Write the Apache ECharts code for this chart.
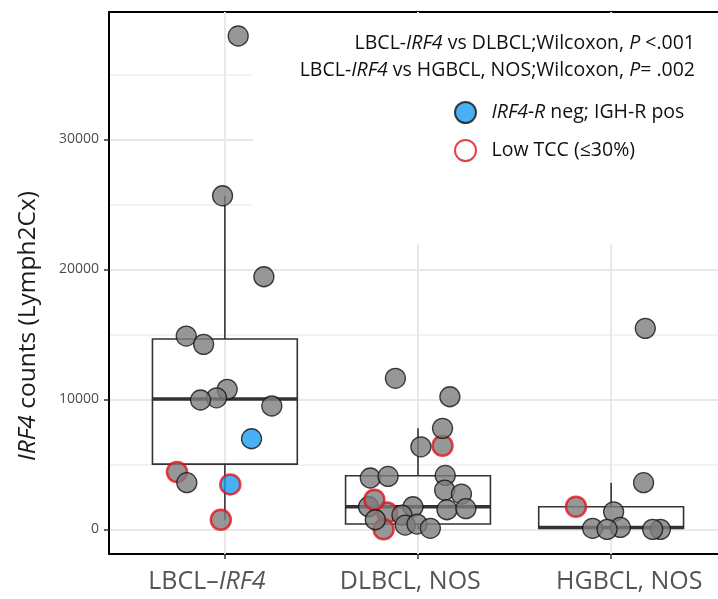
<!DOCTYPE html>
<html>
<head>
<meta charset="utf-8">
<script src="https://cdn.jsdelivr.net/npm/echarts@6/dist/echarts.min.js"></script>
<style>
  html, body { margin: 0; padding: 0; background: #fff; }
  #chart { width: 718px; height: 599px; }
</style>
</head>
<body>
<div id="chart"></div>
<script>
// categories sit at x = 1, 2, 3 (value axis so the jitter can be kept)
const categories = ['LBCL–IRF4', 'DLBCL, NOS', 'HGBCL, NOS'];
const categoryX = [1, 2, 3];

// box stats per category: [x, lower whisker, Q1, median, Q3, upper whisker]
const boxStats = [
  [1, 740, 5020, 10020, 14640, 25660],
  [2, 0, 410, 1740, 4120, 7770],
  [3, 0, 80, 150, 1740, 3590],
];

// jittered points: [x, IRF4 count, kind]  g = plain, b = IRF4-R neg / IGH-R pos, r = low TCC, br = both
const lbclPoints = [
  [1.069, 37950, 'g'], [0.988, 25660, 'g'], [1.202, 19430, 'g'],
  [0.800, 14870, 'g'], [0.890, 14230, 'g'], [1.012, 10770, 'g'],
  [0.957, 10120, 'g'], [0.874, 9950, 'g'], [1.243, 9490, 'g'],
  [1.138, 6970, 'b'], [0.752, 4410, 'r'], [0.803, 3590, 'g'],
  [1.028, 3460, 'br'], [0.979, 740, 'r'],
];
const dlbclPoints = [
  [1.883, 11620, 'g'], [2.165, 10200, 'g'], [2.127, 6430, 'r'],
  [2.127, 7770, 'g'], [2.015, 6350, 'g'], [1.753, 3950, 'g'],
  [1.845, 4070, 'g'], [2.141, 4150, 'g'], [1.744, 1740, 'g'],
  [1.840, 1300, 'r'], [1.774, 2280, 'r'], [2.138, 3020, 'g'],
  [2.225, 2715, 'g'], [2.150, 1510, 'g'], [2.248, 1590, 'g'],
  [1.822, 0, 'r'], [1.779, 740, 'g'], [1.974, 1740, 'g'],
  [1.917, 1100, 'g'], [1.934, 330, 'g'], [1.995, 410, 'g'],
  [2.064, 80, 'g'],
];
const hgbclPoints = [
  [3.177, 15460, 'g'], [3.168, 3590, 'g'], [2.818, 1740, 'r'],
  [3.013, 1350, 'g'], [2.904, 80, 'g'], [3.048, 150, 'g'],
  [2.979, 0, 'g'], [3.255, 0, 'g'], [3.215, 0, 'g'],
];

const yMajorTicks = [0, 10000, 20000, 30000];
const yMinorTicks = [5000, 15000, 25000, 35000];
const legendNames = ['IRF4-R neg; IGH-R pos', 'Low TCC (≤30%)'];

// label nudges (the original labels are not centred on their ticks)
const xLabelShift = [-0.093, -0.04, 0.094];

const FONT = 'Open Sans';
const GREY = '#7d7d7d';
const BLUE = '#1c9cf2';
const RED = '#e0141c';

function pointStyle(kind) {
  return {
    color: kind === 'b' || kind === 'br' ? BLUE : GREY,
    borderColor: kind === 'r' || kind === 'br' ? RED : '#111',
    borderWidth: kind === 'r' || kind === 'br' ? 2.5 : 1.3,
  };
}

const points = [...lbclPoints, ...dlbclPoints, ...hgbclPoints].map((p) => ({
  value: [p[0], p[1]],
  itemStyle: pointStyle(p[2]),
}));

const textRich = (size, color) => ({
  n: { fontFamily: FONT, fontSize: size, color, fontWeight: 'normal' },
  i: { fontFamily: FONT, fontSize: size, color, fontWeight: 'normal', fontStyle: 'italic' },
});

const chart = echarts.init(document.getElementById('chart'));

const gridLine = (color, width) => ({ show: true, lineStyle: { color, width } });
const frameLine = { show: true, onZero: false, lineStyle: { color: '#000', width: 2 } };

chart.setOption({
  animation: false,
  backgroundColor: '#fff',
  title: [
    {
      text: '{n|LBCL-}{i|IRF4}{n| vs DLBCL;Wilcoxon, }{i|P}{n| <.001}',
      right: 23, top: 33, padding: 0,
      textStyle: { fontWeight: 'normal', rich: textRich(19.5, '#111') },
    },
    {
      text: '{n|LBCL-}{i|IRF4}{n| vs HGBCL, NOS;Wilcoxon, }{i|P}{n|= .002}',
      right: 23, top: 60.5, padding: 0,
      textStyle: { fontWeight: 'normal', rich: textRich(19.5, '#111') },
    },
  ],
  legend: {
    data: legendNames,
    orient: 'vertical',
    left: 454, top: 101,
    padding: 0,
    itemWidth: 42, itemHeight: 21, itemGap: 15,
    icon: 'circle',
    formatter: (name) => (name === legendNames[0] ? '{i|IRF4-R}{n| neg; IGH-R pos}' : '{n|' + name + '}'),
    textStyle: { rich: textRich(19.5, '#111') },
  },
  graphic: [
    {
      // white panel behind the annotations hides the grid there
      type: 'rect', z: 1.5, silent: true,
      shape: { x: 253, y: 13.5, width: 470, height: 231 },
      style: { fill: '#fff' },
    },
  ],
  grid: {
    left: 109, right: -9, top: 12, bottom: 45,
    outerBoundsMode: 'none',
  },
  xAxis: [
    {
      type: 'value',
      min: 0.4, max: 3.6,
      axisLine: frameLine,
      axisTick: { show: true, length: 5, customValues: categoryX, lineStyle: { color: '#333', width: 1.5 } },
      axisLabel: {
        customValues: categoryX.map((v, i) => v + xLabelShift[i]),
        margin: 15,
        formatter: (v) => {
          const i = Math.round(v) - 1;
          if (i === 0) return '{n|LBCL–}{i|IRF4}';
          return '{n|' + categories[i] + '}';
        },
        rich: textRich(25, '#555'),
      },
      splitLine: { show: false },
    },
    {
      // top edge of the panel frame
      type: 'value',
      position: 'top',
      min: 0.4, max: 3.6,
      axisLine: frameLine,
      axisTick: { show: false },
      axisLabel: { show: false },
      splitLine: { show: false },
    },
  ],
  yAxis: [
    {
      type: 'value',
      min: -1895, max: 39795,
      name: '{i|IRF4}{n| counts (Lymph2Cx)}',
      nameLocation: 'middle',
      nameGap: 68,
      nameTextStyle: { padding: [0, 86, 0, 0], rich: textRich(24.5, '#1a1a1a') },
      axisLine: frameLine,
      axisTick: { show: true, length: 5, customValues: yMajorTicks, lineStyle: { color: '#333', width: 1.5 } },
      axisLabel: {
        customValues: yMajorTicks,
        margin: 10,
        formatter: (v) => String(v),
        fontFamily: FONT, fontSize: 14, color: '#4d4d4d',
      },
      splitLine: gridLine('#e8e8e8', 2),
    },
    {
      type: 'value',
      position: 'left',
      min: -1895, max: 39795,
      axisLine: { show: false },
      axisTick: { show: false, customValues: yMinorTicks },
      axisLabel: { show: false, customValues: yMinorTicks },
      splitLine: gridLine('#efefef', 1.5),
    },
  ],
  series: [
    {
      // vertical grid line + box + whiskers for each category
      type: 'custom',
      z: 1,
      data: boxStats,
      renderItem: (params, api) => {
        const x = api.value(0);
        const half = api.size([0.375, 0])[0];
        const lo = api.coord([x, api.value(1)]);
        const q1 = api.coord([x, api.value(2)]);
        const med = api.coord([x, api.value(3)]);
        const q3 = api.coord([x, api.value(4)]);
        const hi = api.coord([x, api.value(5)]);
        const cs = params.coordSys;
        const line = { stroke: '#333', lineWidth: 1.6 };
        return {
          type: 'group',
          children: [
            {
              type: 'line',
              shape: { x1: med[0], y1: cs.y, x2: med[0], y2: cs.y + cs.height },
              style: { stroke: '#e8e8e8', lineWidth: 2 },
            },
            { type: 'line', shape: { x1: hi[0], y1: hi[1], x2: q3[0], y2: q3[1] }, style: line },
            { type: 'line', shape: { x1: q1[0], y1: q1[1], x2: lo[0], y2: lo[1] }, style: line },
            {
              type: 'rect',
              shape: { x: q3[0] - half, y: q3[1], width: half * 2, height: q1[1] - q3[1] },
              style: { fill: 'none', stroke: '#333', lineWidth: 1.6 },
            },
            {
              type: 'line',
              shape: { x1: med[0] - half, y1: med[1], x2: med[0] + half, y2: med[1] },
              style: { stroke: '#333', lineWidth: 3.5 },
            },
          ],
        };
      },
    },
    {
      type: 'scatter',
      z: 3,
      symbolSize: 20,
      data: points,
    },
    {
      name: legendNames[0],
      type: 'scatter',
      data: [],
      itemStyle: { color: BLUE, borderColor: '#111', borderWidth: 1.3 },
    },
    {
      name: legendNames[1],
      type: 'scatter',
      data: [],
      itemStyle: { color: '#fff', borderColor: RED, borderWidth: 2.5 },
    },
  ],
});
</script>
</body>
</html>
